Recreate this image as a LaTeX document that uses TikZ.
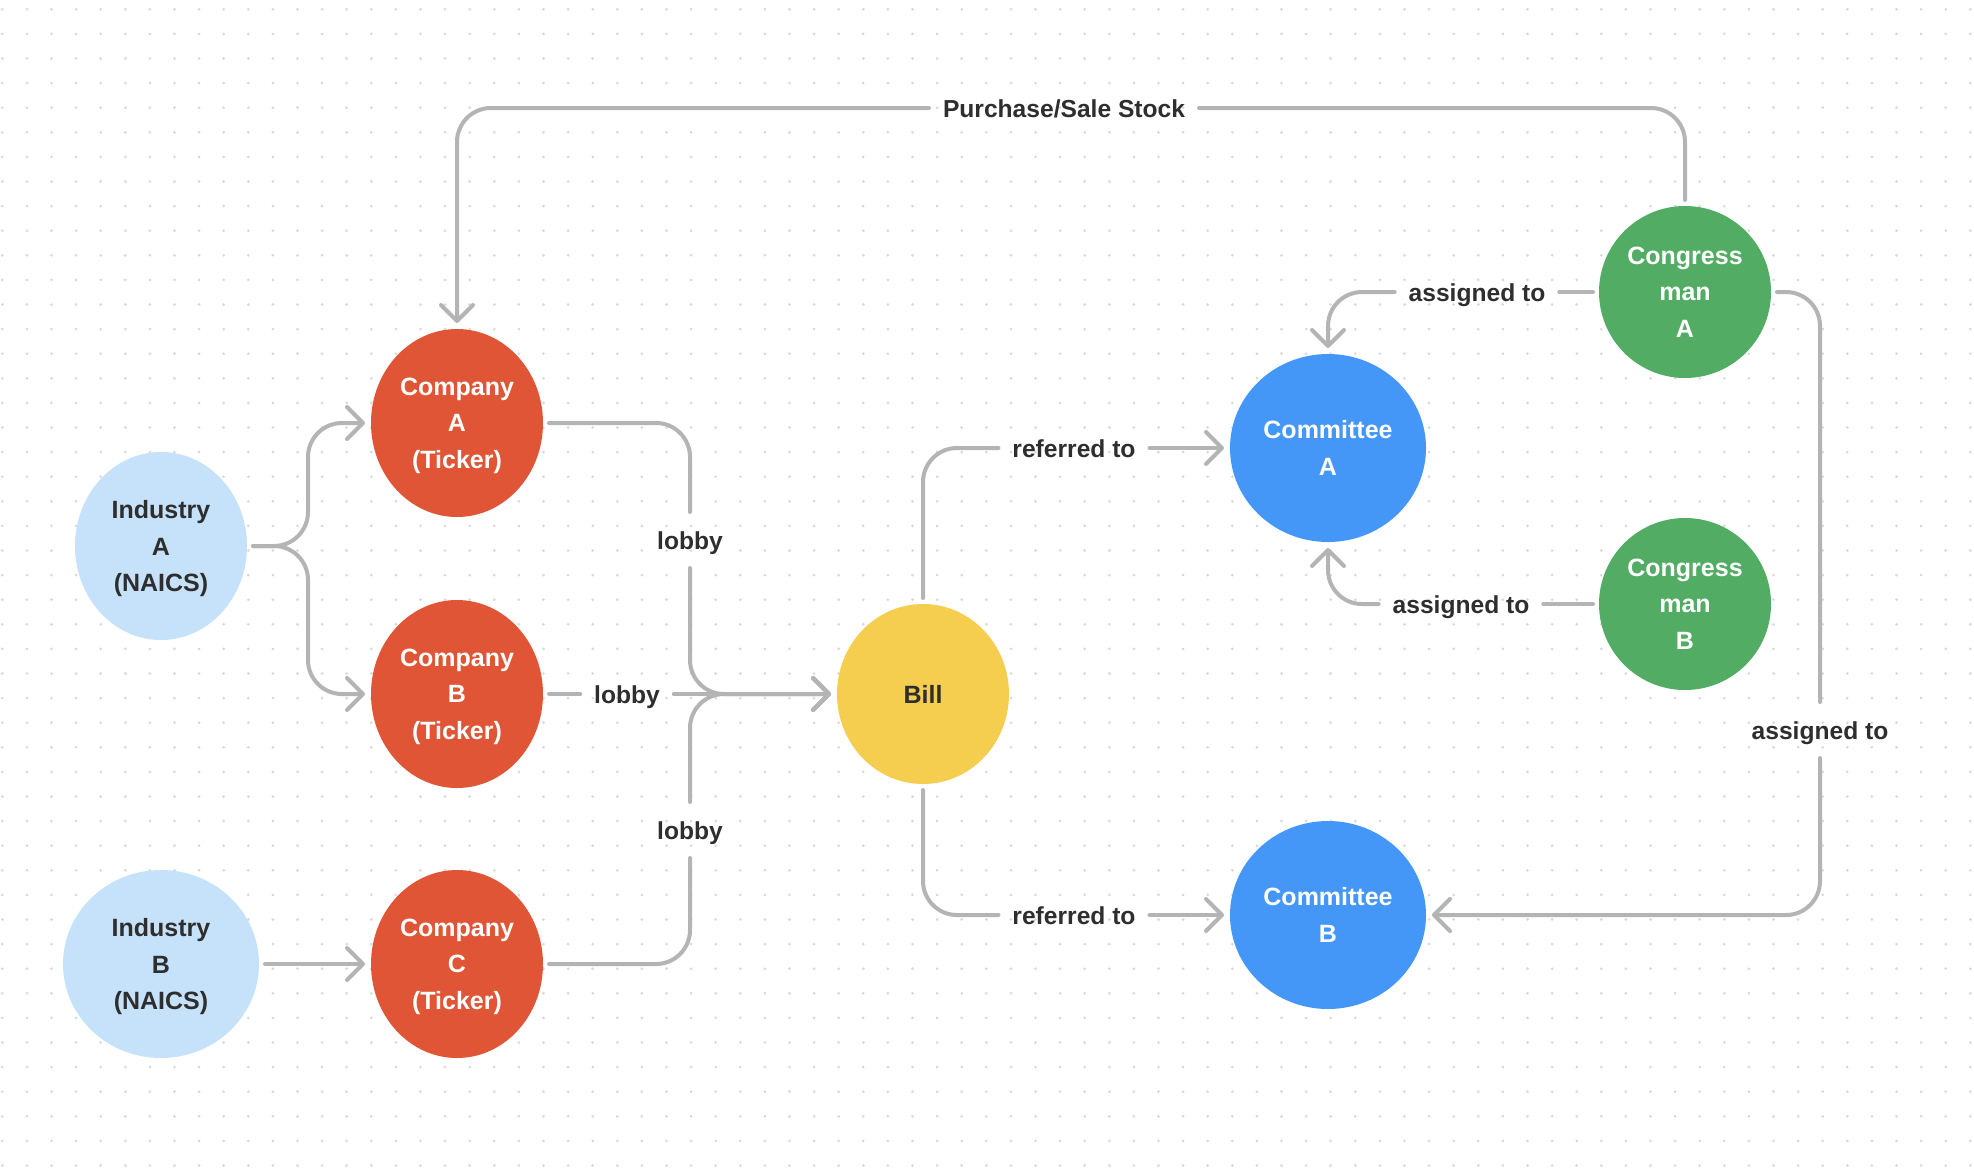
\documentclass[tikz,border=0pt]{standalone}
\usepackage{fontspec}
\setmainfont{Liberation Sans}
\usetikzlibrary{shapes.geometric,arrows.meta}
\definecolor{dotc}{HTML}{D9D9D9}
\definecolor{linec}{HTML}{B4B4B4}
\definecolor{txtc}{HTML}{2E2E2E}
\definecolor{indc}{HTML}{C6E2FB}
\definecolor{compc}{HTML}{E05535}
\definecolor{billc}{HTML}{F5CE50}
\definecolor{comc}{HTML}{4597F7}
\definecolor{conc}{HTML}{52AC64}
\newcommand{\lastline}[1]{\smash{#1}}
\begin{document}
\begin{tikzpicture}[x=0.5pt,y=-0.5pt,
  >={Straight Barb[length=8pt,width=16pt,line cap=round,line join=round]},
  ell/.style={ellipse, inner sep=0pt, outer sep=3pt, align=center,
    font=\bfseries\fontsize{12.5}{18.25}\selectfont},
  industry/.style={ell, fill=indc, text=txtc},
  company/.style={ell, fill=compc, text=white, minimum width=86pt, minimum height=94pt},
  bill/.style={ell, fill=billc, text=txtc, minimum width=86pt, minimum height=90pt},
  committee/.style={ell, fill=comc, text=white, minimum width=98pt, minimum height=94pt},
  congress/.style={ell, fill=conc, text=white, minimum width=86pt, minimum height=86pt},
  lbl/.style={inner xsep=7pt, inner ysep=0pt, minimum height=28pt, outer sep=0pt,
    text height=9pt, text depth=0pt,
    text=txtc, font=\bfseries\fontsize{12.3}{14}\selectfont},
  conn/.style={draw=linec, line width=2pt, line cap=round, line join=round, rounded corners=17pt}]
\fill[white] (0,0) rectangle (1974,1168);
\useasboundingbox (0,0) rectangle (1974,1168);
\foreach \i in {0,...,80}{\foreach \j in {0,...,47}{
  \fill[dotc] ({2.3+24.6*\i},{9.3+24.6*\j}) circle[radius=0.75pt];}}

% nodes
\node[industry, minimum width=86pt, minimum height=94pt] (indA) at (161,546) {Industry\\A\\\lastline{(NAICS)}};
\node[industry, minimum width=98pt, minimum height=94pt] (indB) at (161,964) {Industry\\B\\\lastline{(NAICS)}};
\node[company] (compA) at (457,423) {Company\\A\\\lastline{(Ticker)}};
\node[company] (compB) at (457,694) {Company\\B\\\lastline{(Ticker)}};
\node[company] (compC) at (457,964) {Company\\C\\\lastline{(Ticker)}};
\node[bill] (bill) at (923,694) {Bill};
\node[committee] (comA) at (1328,448) {Committee\\A};
\node[committee] (comB) at (1328,915) {Committee\\B};
\node[congress] (conA) at (1685,292) {Congress\\man\\A};
\node[congress] (conB) at (1685,604) {Congress\\man\\B};

% labels
\node[lbl] (ps) at (1064,108) {Purchase/Sale Stock};
\node[lbl] (lobA) at (690,540) {lobby};
\node[lbl] (lobB) at (627,694) {lobby};
\node[lbl] (lobC) at (690,830) {lobby};
\node[lbl] (refA) at (1074,448) {referred to};
\node[lbl] (refB) at (1074,915) {referred to};
\node[lbl] (asgA) at (1477,292) {assigned to};
\node[lbl] (asgB) at (1461,604) {assigned to};
\node[lbl] (asgR) at (1820,730) {assigned to};

% connectors
\draw[conn,->] (indA.east) -- ++(55,0) |- (compA.west);
\draw[conn,->] (indA.east) -- ++(55,0) |- (compB.west);
\draw[conn,->] (indB.east) -- (compC.west);

\draw[conn] (compA.east) -| (lobA.north);
\draw[conn,->] (lobA.south) |- (bill.west);
\draw[conn] (compB.east) -- (lobB.west);
\draw[conn,->] (lobB.east) -- (bill.west);
\draw[conn] (compC.east) -| (lobC.south);
\draw[conn,->] (lobC.north) |- (bill.west);

\draw[conn] (bill.north) |- (refA.west);
\draw[conn,->] (refA.east) -- (comA.west);
\draw[conn] (bill.south) |- (refB.west);
\draw[conn,->] (refB.east) -- (comB.west);

\draw[conn] (conA.west) -- (asgA.east);
\draw[conn,->] (asgA.west) -| (comA.north);
\draw[conn] (conB.west) -- (asgB.east);
\draw[conn,->] (asgB.west) -| (comA.south);
\draw[conn] (conA.east) -| (asgR.north);
\draw[conn,->] (asgR.south) |- (comB.east);

\draw[conn] (conA.north) |- (ps.east);
\draw[conn,->] (ps.west) -| (compA.north);
\end{tikzpicture}
\end{document}
